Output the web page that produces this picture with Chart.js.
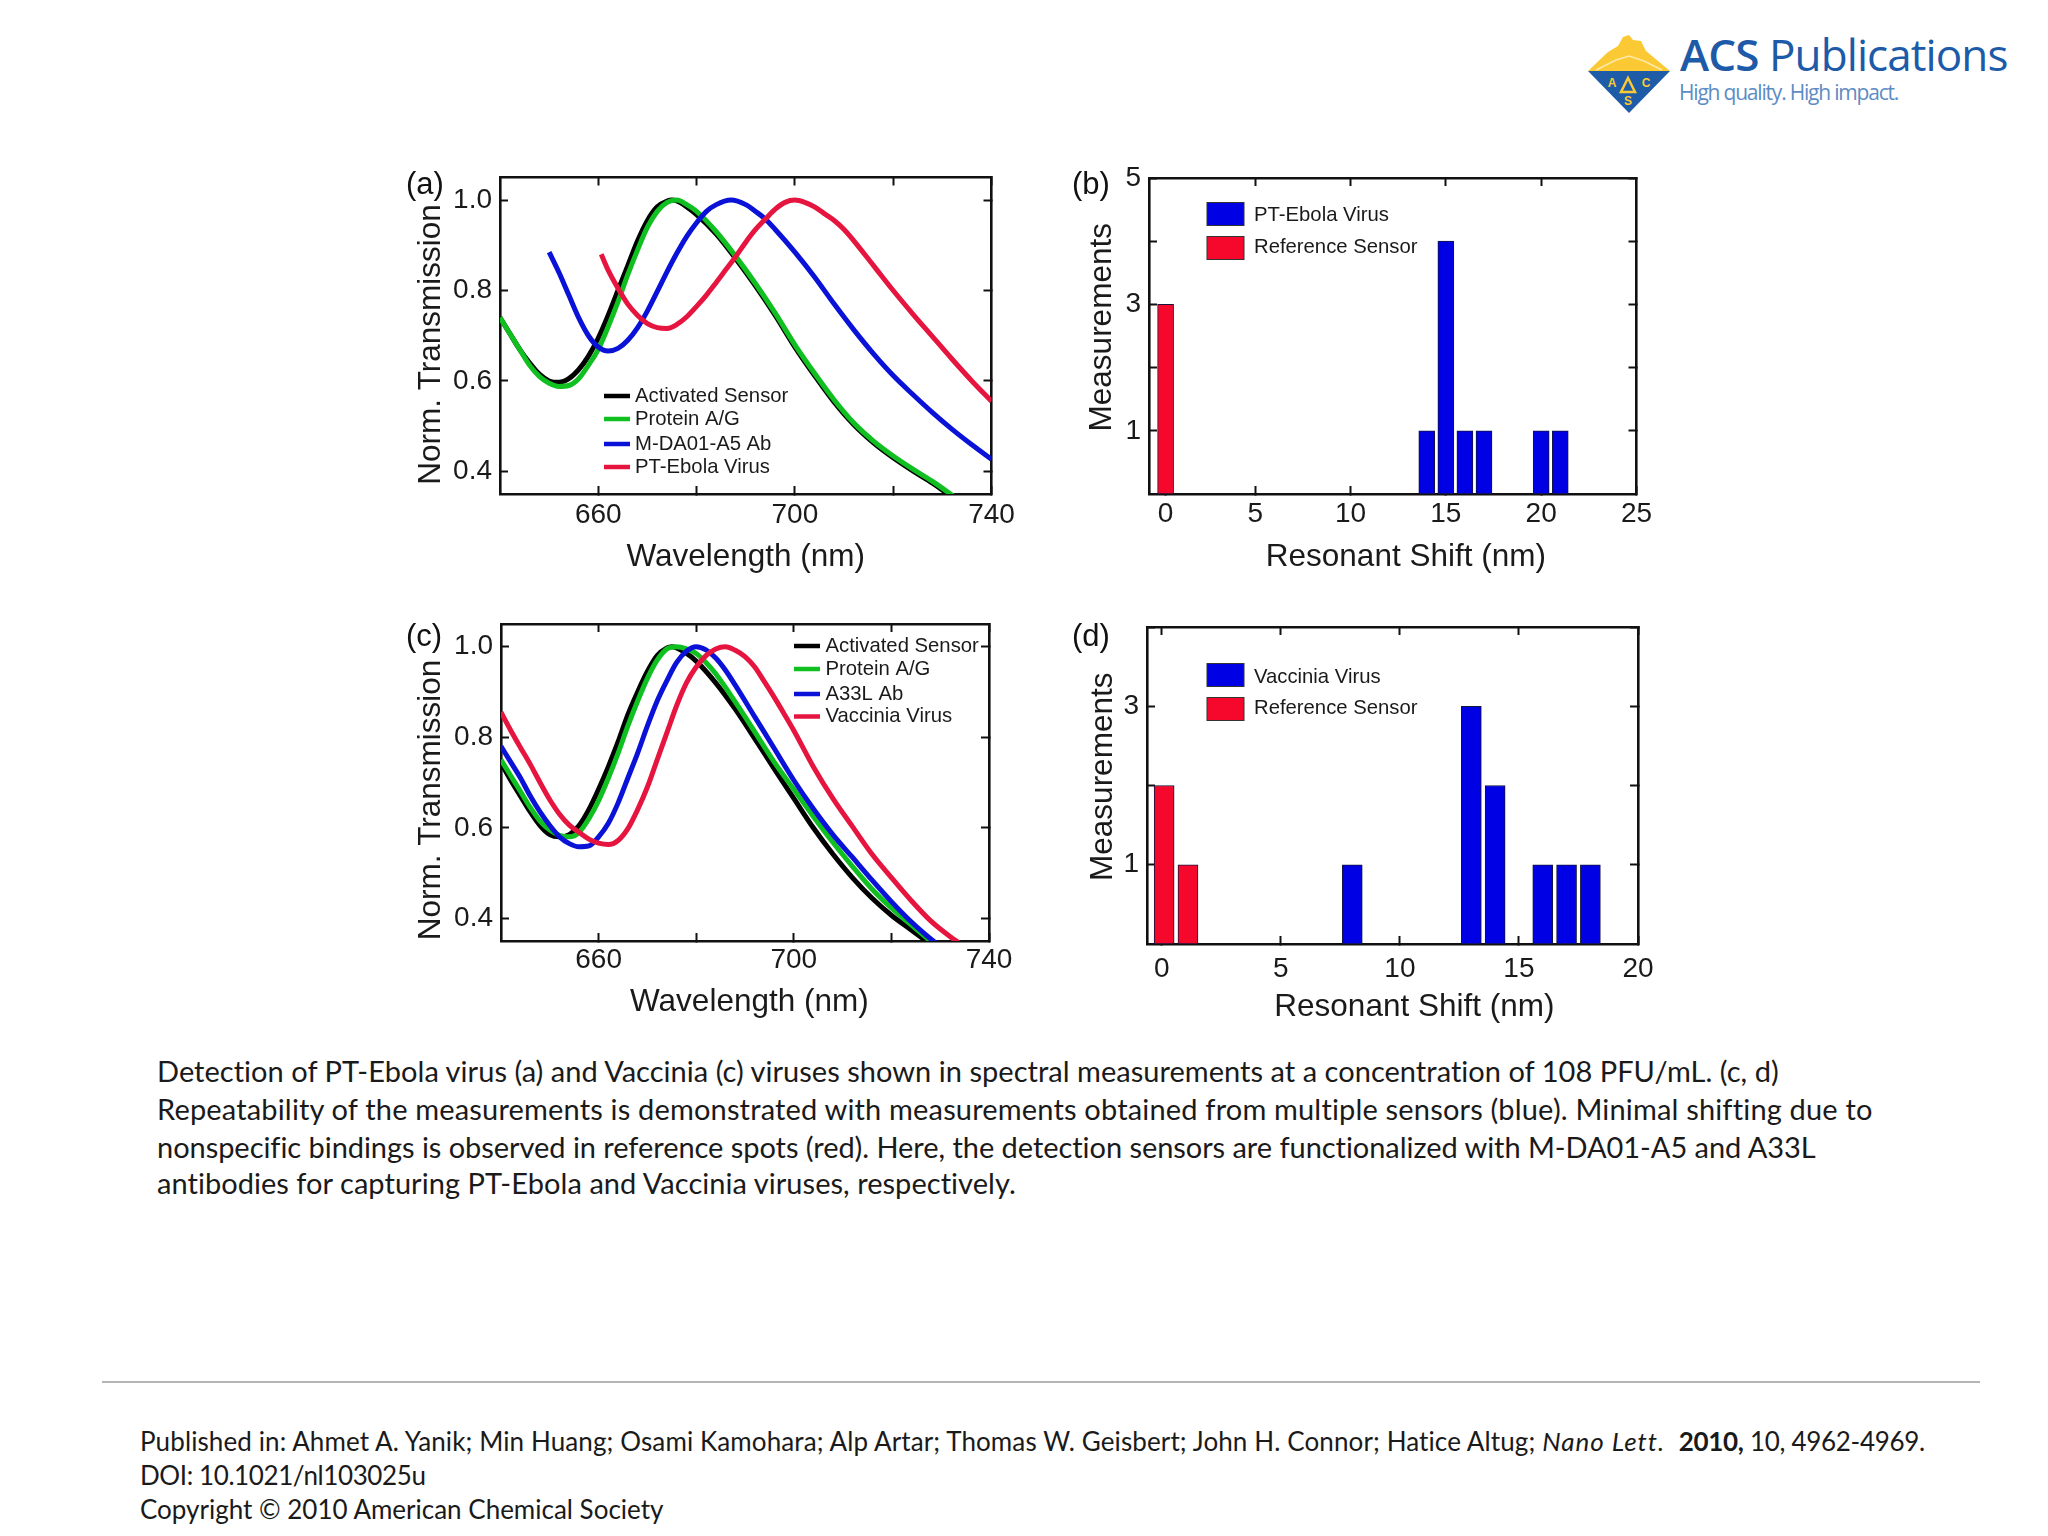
<!DOCTYPE html>
<html>
<head>
<meta charset="utf-8">
<title>ACS figure</title>
<script src="https://cdn.jsdelivr.net/npm/chart.js@4"></script>
<style>
html,body{margin:0;padding:0;background:#fff;width:2048px;height:1536px;overflow:hidden}
canvas{position:absolute;display:block}
.t{position:absolute;white-space:nowrap;color:#1a1a1a}
.lab{font-family:"Liberation Sans";font-size:31px;line-height:34px;color:#111}
.cap{font-family:"Lato";font-size:29px;line-height:36px;left:157px}
.foot{font-family:"Lato";font-size:26px;line-height:34px;left:140px}
#rule{position:absolute;left:102px;top:1381px;width:1878px;height:2px;background:#b5b5b5}
</style>
</head>
<body>
<svg style="position:absolute;left:1580px;top:28px" width="100" height="92" viewBox="0 0 100 92">
  <polygon points="8,43 28,24 38,18 43,9 49,7 53,12 61,13 66,23 90,43" fill="#fbc933"/>
  <polyline points="16,42 36,32 49,28 64,33 82,42" fill="none" stroke="#ffe9a8" stroke-width="1.5"/>
  <polygon points="8,43 90,43 49,85" fill="#1f5ca8"/>
  <polygon points="48,50 41,64 55,64" fill="none" stroke="#fbc933" stroke-width="2.5"/>
  <text x="32" y="59" font-family="Liberation Sans" font-weight="bold" font-size="12" fill="#fbc933" text-anchor="middle">A</text>
  <text x="66" y="59" font-family="Liberation Sans" font-weight="bold" font-size="12" fill="#fbc933" text-anchor="middle">C</text>
  <text x="48" y="77" font-family="Liberation Sans" font-weight="bold" font-size="12" fill="#fbc933" text-anchor="middle">S</text>
</svg>
<div class="t" style="left:1680px;top:24px;font-family:'Open Sans';font-size:44px;line-height:60px;color:#1d5aa8;letter-spacing:-0.9px"><span style="font-weight:600">ACS</span> Publications</div>
<div class="t" style="left:1679px;top:77px;font-family:'Open Sans';font-size:21px;line-height:30px;color:#5d8cc4;letter-spacing:-1.2px">High quality. High impact.</div>

<canvas id="a" width="640" height="450" style="left:390px;top:150px"></canvas>
<canvas id="b" width="640" height="450" style="left:1050px;top:150px"></canvas>
<canvas id="c" width="640" height="450" style="left:390px;top:600px"></canvas>
<canvas id="d" width="640" height="450" style="left:1050px;top:600px"></canvas>

<div class="t lab" style="left:406px;top:167px">(a)</div>
<div class="t lab" style="left:1072px;top:167px">(b)</div>
<div class="t lab" style="left:406px;top:619px">(c)</div>
<div class="t lab" style="left:1072px;top:619px">(d)</div>

<div class="t cap" style="top:1053px;letter-spacing:.03px">Detection of PT-Ebola virus (a) and Vaccinia (c) viruses shown in spectral measurements at a concentration of 108 PFU/mL. (c, d)</div>
<div class="t cap" style="top:1091px;letter-spacing:.17px">Repeatability of the measurements is demonstrated with measurements obtained from multiple sensors (blue). Minimal shifting due to</div>
<div class="t cap" style="top:1129px;letter-spacing:-.05px">nonspecific bindings is observed in reference spots (red). Here, the detection sensors are functionalized with M-DA01-A5 and A33L</div>
<div class="t cap" style="top:1165px;letter-spacing:.04px">antibodies for capturing PT-Ebola and Vaccinia viruses, respectively.</div>
<div id="rule"></div>
<div class="t foot" style="top:1424px;letter-spacing:.11px">Published in: Ahmet A. Yanik; Min Huang; Osami Kamohara; Alp Artar; Thomas W. Geisbert; John H. Connor; Hatice Altug; <i style="letter-spacing:1px">Nano Lett.</i>&nbsp; <span style="letter-spacing:-.3px"><b>2010,</b> 10, 4962-4969.</span></div>
<div class="t foot" style="top:1458px;letter-spacing:-.4px">DOI: 10.1021/nl103025u</div>
<div class="t foot" style="top:1492px">Copyright © 2010 American Chemical Society</div>

<script>
// ---- panel (a) ----
const aBlackX = [640,642,644,646,648,650,652,654,656,658,660,662,664,666,668,670,672,674,675,676,678,680,684,688,692,696,700,704,708,712,716,720,724,728,732];
const aBlackY = [.74,.705,.67,.64,.615,.6,.597,.605,.625,.655,.695,.745,.8,.855,.91,.955,.985,.998,1,.998,.985,.968,.925,.87,.81,.745,.675,.612,.553,.503,.463,.43,.401,.374,.343];
const aGreenX = [640,642,644,646,648,650,652,654,656,658,660,662,664,666,668,670,672,674,676,678,680,684,688,692,696,700,704,708,712,716,720,724,728,732,734];
const aGreenY = [.74,.705,.67,.635,.61,.595,.588,.59,.605,.635,.67,.72,.775,.835,.89,.94,.975,.995,1,.99,.975,.93,.875,.815,.75,.68,.617,.558,.507,.467,.434,.405,.378,.347,.33];
const aBlueX = [650,652,654,656,658,660,662,664,666,668,670,672,674,676,678,680,682,684,687,690,692,694,696,700,704,708,712,716,720,724,728,732,736,740];
const aBlueY = [.885,.84,.79,.74,.7,.675,.666,.672,.69,.718,.755,.798,.842,.883,.92,.95,.975,.99,1,.99,.975,.958,.935,.885,.83,.77,.713,.66,.612,.57,.53,.493,.459,.427];
const aRedX = [660.6,662,664,666,668,670,672,674,676,678,680,682,684,686,688,690,692,694,696,698,700,702,704,706,708,710,712,716,720,724,728,732,736,740];
const aRedY = [.88,.845,.805,.77,.745,.727,.718,.716,.725,.742,.765,.79,.818,.847,.876,.907,.935,.958,.98,.995,1,.995,.985,.97,.955,.935,.91,.855,.8,.748,.698,.648,.6,.555];
const aLabels = ["Activated Sensor","Protein A/G","M-DA01-A5 Ab","PT-Ebola Virus"];

// ---- panel (c) ----
const cBlackX = [640,642,644,646,648,650,652,654,656,658,660,662,664,666,668,670,672,674,675,678,680,684,688,692,696,700,704,708,712,716,720,724,728];
const cBlackY = [.743,.705,.67,.635,.605,.585,.58,.585,.605,.64,.685,.735,.79,.85,.9,.945,.98,.997,1,.985,.968,.92,.862,.797,.73,.665,.6,.542,.49,.445,.407,.375,.343];
const cGreenX = [640,642,644,646,648,650,652,654,656,658,660,662,664,666,668,670,672,674,676,678,680,682,684,688,692,696,700,704,708,712,716,720,724,728];
const cGreenY = [.75,.715,.68,.645,.615,.595,.583,.58,.59,.62,.66,.71,.765,.825,.88,.93,.97,.995,1,.995,.985,.965,.94,.878,.812,.745,.685,.625,.568,.515,.465,.423,.386,.35];
const cBlueX = [640,642,644,646,648,650,652,654,656,658,660,662,664,666,668,670,672,674,676,678,680,682,684,686,688,692,696,700,704,708,712,716,720,724,728,730];
const cBlueY = [.78,.745,.71,.67,.635,.605,.58,.565,.558,.56,.58,.61,.655,.71,.765,.825,.88,.925,.965,.99,1,.993,.975,.948,.915,.845,.775,.705,.642,.585,.535,.485,.437,.393,.355,.338];
const cRedX = [640,642,644,646,648,650,652,654,656,658,660,662,664,666,668,670,672,674,676,678,680,682,684,686,688,690,692,694,696,698,700,704,708,712,716,720,724,728,732,734];
const cRedY = [.855,.815,.777,.74,.7,.662,.63,.606,.59,.575,.566,.563,.572,.598,.64,.69,.75,.81,.87,.92,.955,.98,.995,1,.992,.978,.955,.922,.888,.852,.815,.735,.665,.603,.542,.49,.44,.395,.36,.345];
const cLabels = ["Activated Sensor","Protein A/G","A33L Ab","Vaccinia Virus"];

// ---- panel (b) ----
const bBlueX = [14,15,16,17,20,21];
const bBlueY = [1,4,1,1,1,1];
const bRedX = [0.3];
const bRedY = [3];
const bLabels = ["PT-Ebola Virus","Reference Sensor"];

// ---- panel (d) ----
const dBlueX = [8,13,14,16,17,18];
const dBlueY = [1,3,2,1,1,1];
const dRedX = [0.1,1.1];
const dRedY = [2,1];
const dLabels = ["Vaccinia Virus","Reference Sensor"];

// ---- axes ----
const specXTicks = [660,680,700,720,740];
const specXLabels = ["660","","700","","740"];
const specYTicks = [0.4,0.6,0.8,1.0];
const specYLabels = ["0.4","0.6","0.8","1.0"];
const bXTicks = [0.3,5,10,15,20,25];
const bXLabels = ["0","5","10","15","20","25"];
const bXTopTicks = [5,10,15,20];
const bYTicks = [1,2,3,4,5];
const bYLabels = ["1","","3","","5"];
const dXTicks = [0,5,10,15,20];
const dXLabels = ["0","5","10","15","20"];
const dYTicks = [1,2,3,4];
const dYLabels = ["1","","3",""];

const lineColors = ["#000000","#10c020","#0a12d8","#e6153f"];
const barColors = ["#0000e4","#f6082c"];
const TICK_FONT = {family:"Liberation Sans",size:28};
const TITLE_FONT = {family:"Liberation Sans",size:31.5};
const LEG_FONT = '20.3px "Liberation Sans"';
const nb = n => "\u00A0".repeat(n);

const overlayLegend = {
  id:"overlayLegend",
  afterDraw(chart, args, o){
    const c = chart.ctx; c.save();
    c.font = LEG_FONT; c.textBaseline = "middle"; c.fillStyle = "#1a1a1a";
    o.labels.forEach((lab,i)=>{
      const y = o.rows[i];
      if(o.kind==="line"){
        c.strokeStyle = o.colors[i]; c.lineWidth = 4.5;
        c.beginPath(); c.moveTo(o.x0,y); c.lineTo(o.x1,y); c.stroke();
      } else {
        c.fillStyle = o.colors[i]; c.fillRect(o.x0,y-11.5,o.x1-o.x0,23);
        c.strokeStyle = "#333"; c.lineWidth = 1; c.strokeRect(o.x0,y-11.5,o.x1-o.x0,23);
        c.fillStyle = "#1a1a1a";
      }
      c.fillText(lab,o.tx,o.textRows?o.textRows[i]:y);
    });
    c.restore();
  }
};

function axisSet(p){
  const fixed = (vals)=>function(s){ s.ticks = vals.map(v=>({value:v})); };
  const size = (k,v)=>function(s){ s[k]=v; s.paddingLeft=0; s.paddingRight=0; s.paddingTop=0; s.paddingBottom=0; };
  const base = {
    type:"linear",offset:false,
    border:{display:true,color:"#111",width:2.6},
    grid:{offset:false,drawOnChartArea:false,drawTicks:true,tickLength:-8,tickColor:"#111",tickWidth:2}
  };
  return {
    x:{...base,position:"bottom",min:p.xMin,max:p.xMax,afterBuildTicks:fixed(p.xTicks),afterFit:size("height",p.xH),
       ticks:{font:TICK_FONT,color:"#1a1a1a",padding:p.xPad,autoSkip:false,maxRotation:0,callback:(v,i)=>p.xLabels[i]},
       title:{display:true,text:p.xTitle,font:TITLE_FONT,color:"#1a1a1a",padding:{top:0,bottom:p.xTitlePad}}},
    y:{...base,position:"left",min:p.yMin,max:p.yMax,afterBuildTicks:fixed(p.yTicks),afterFit:size("width",p.yW),
       ticks:{font:TICK_FONT,color:"#1a1a1a",padding:p.yPad,autoSkip:false,callback:(v,i)=>p.yLabels[i]},
       title:{display:true,text:p.yTitle,font:TITLE_FONT,color:"#1a1a1a",padding:{top:p.yTitlePad,bottom:0}}},
    x2:{...base,axis:"x",position:"top",min:p.xMin,max:p.xMax,afterBuildTicks:fixed(p.xTopTicks||p.xTicks),afterFit:size("height",0),ticks:{display:false}},
    y2:{...base,axis:"y",position:"right",min:p.yMin,max:p.yMax,afterBuildTicks:fixed(p.yTicks),afterFit:size("width",0),ticks:{display:false}}
  };
}

function commonOptions(p,legend){
  return {
    responsive:false,animation:false,devicePixelRatio:1,
    layout:{padding:p.padding},
    scales:axisSet(p),
    plugins:{legend:{display:false},title:{display:false},tooltip:{enabled:false},overlayLegend:legend}
  };
}

function zip(xs,ys){ return xs.map((x,i)=>({x:x,y:ys[i]})); }

function lineChart(id,series,labels,p,legend){
  new Chart(document.getElementById(id),{
    type:"line",
    data:{datasets:series.map((s,i)=>({
      label:labels[i],data:zip(s[0],s[1]),borderColor:lineColors[i],borderWidth:5,
      pointRadius:0,cubicInterpolationMode:"monotone",order:3-i
    }))},
    options:commonOptions(p,{kind:"line",labels:labels,colors:lineColors,...legend}),
    plugins:[overlayLegend]
  });
}

function barChart(id,series,labels,p,legend){
  new Chart(document.getElementById(id),{
    type:"bar",
    data:{datasets:series.map((s,i)=>({
      label:labels[i],data:zip(s[0],s[1]),backgroundColor:barColors[i],borderColor:"#14143c",
      borderWidth:1,barThickness:p.barW,grouped:false,borderSkipped:false
    }))},
    options:commonOptions(p,{kind:"bar",labels:labels,colors:barColors,...legend}),
    plugins:[overlayLegend]
  });
}

const specCommon = {xMin:640,xMax:740,xTicks:specXTicks,xLabels:specXLabels,yMin:.35,yMax:1.05,yTicks:specYTicks,yLabels:specYLabels,
  yW:110,yPad:16,yTitlePad:22};

lineChart("a",[[aBlackX,aBlackY],[aGreenX,aGreenY],[aBlueX,aBlueY],[aRedX,aRedY]],aLabels,
  {...specCommon,xH:106,xPad:12,yTitle:"Norm. Transmission"+nb(2),xTitle:"Wavelength (nm)",xTitlePad:24,padding:{top:27.5,right:38.5,left:0,bottom:0}},
  {x0:214,x1:240,tx:245,rows:[246,269,294,317]});

lineChart("c",[[cBlackX,cBlackY],[cGreenX,cGreenY],[cBlueX,cBlueY],[cRedX,cRedY]],cLabels,
  {...specCommon,yW:111,xH:109,xPad:10,yTitle:"Norm. Transmission"+nb(4),xTitle:nb(1)+"Wavelength (nm)",xTitlePad:29,padding:{top:24,right:41,left:0,bottom:0}},
  {x0:404,x1:430,tx:435.5,rows:[46,69,94,116.5]});

barChart("b",[[bBlueX,bBlueY],[bRedX,bRedY]],bLabels,
  {xMin:-0.57,xMax:25,xTicks:bXTicks,xLabels:bXLabels,xTopTicks:bXTopTicks,yMin:0,yMax:5,yTicks:bYTicks,yLabels:bYLabels,
   yW:99,xH:106,xPad:11,yPad:16,xTitle:nb(3)+"Resonant Shift (nm)",yTitle:nb(2)+"Measurements",yTitlePad:33,xTitlePad:24,barW:16,
   padding:{top:28,right:53.5,left:0,bottom:0}},
  {x0:157,x1:194,tx:204,rows:[64,98],textRows:[65,97]});

barChart("d",[[dBlueX,dBlueY],[dRedX,dRedY]],dLabels,
  {xMin:-0.62,xMax:20,xTicks:dXTicks,xLabels:dXLabels,yMin:0,yMax:4,yTicks:dYTicks,yLabels:dYLabels,
   yW:97,xH:106,xPad:16,yPad:16,xTitle:nb(5)+"Resonant Shift (nm)",yTitle:nb(2)+"Measurements",yTitlePad:34,xTitlePad:23.5,barW:20,
   padding:{top:27,right:52,left:0,bottom:0}},
  {x0:157,x1:194,tx:204,rows:[75,109],textRows:[77,108]});
</script>
</body>
</html>
